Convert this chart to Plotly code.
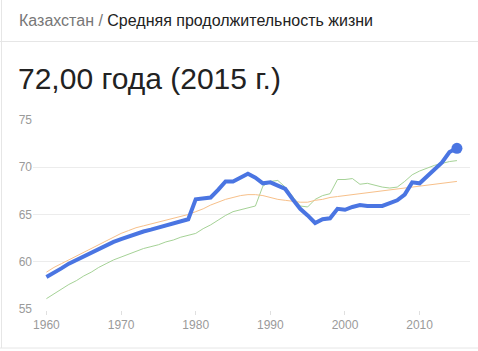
import plotly.graph_objects as go

years = list(range(1960, 2016))

kazakhstan = [58.4, 58.8, 59.3, 59.8, 60.2, 60.6, 61.0, 61.4, 61.8, 62.1,
              62.4, 62.7, 63.0, 63.2, 63.4, 63.6, 63.8, 64.0, 64.2, 64.5,
              66.6, 66.7, 66.8, 67.6, 68.5, 68.5, 68.9, 69.3, 68.9, 68.3,
              68.4, 68.1, 67.7, 66.6, 65.6, 64.9, 64.1, 64.5, 64.6, 65.6,
              65.5, 65.8, 66.0, 65.9, 65.9, 65.9, 66.2, 66.5, 67.1, 68.4,
              68.3, 69.0, 69.7, 70.5, 71.6, 72.0]

orange_series = [58.9, 59.4, 59.8, 60.2, 60.6, 61.0, 61.4, 61.8, 62.2, 62.6,
                 63.0, 63.3, 63.6, 63.8, 64.0, 64.2, 64.4, 64.6, 64.8, 65.0,
                 65.3, 65.6, 66.0, 66.3, 66.6, 66.8, 67.0, 67.1, 67.1, 67.0,
                 66.8, 66.6, 66.5, 66.4, 66.3, 66.3, 66.5, 66.6, 66.8, 66.9,
                 67.0, 67.1, 67.2, 67.3, 67.4, 67.5, 67.6, 67.7, 67.8, 67.9,
                 68.0, 68.1, 68.2, 68.3, 68.4, 68.5]

green_series = [56.1, 56.6, 57.1, 57.6, 58.0, 58.5, 58.9, 59.4, 59.8, 60.2,
                60.5, 60.8, 61.1, 61.4, 61.6, 61.8, 62.1, 62.3, 62.6, 62.8,
                63.0, 63.5, 63.9, 64.4, 64.9, 65.3, 65.5, 65.7, 65.9, 68.0,
                68.5, 68.6, 67.9, 66.9, 65.9, 65.8, 66.6, 67.0, 67.2, 68.7,
                68.7, 68.8, 68.2, 68.3, 68.1, 67.9, 67.8, 67.9, 68.5, 69.2,
                69.6, 69.9, 70.2, 70.4, 70.6, 70.7]

x_ticks = [1960, 1970, 1980, 1990, 2000, 2010]
y_ticks = [55, 60, 65, 70, 75]

header_country = "Казахстан"
header_metric = "Средняя продолжительность жизни"
headline = "72,00 года (2015 г.)"

FONT = "Arial, Liberation Sans, sans-serif"

fig = go.Figure()
fig.add_trace(go.Scatter(x=years, y=green_series, mode="lines",
                         line=dict(color="#a5d296", width=1), hoverinfo="skip"))
fig.add_trace(go.Scatter(x=years, y=orange_series, mode="lines",
                         line=dict(color="#f7c08a", width=1), hoverinfo="skip"))
fig.add_trace(go.Scatter(x=years, y=kazakhstan, mode="lines",
                         line=dict(color="#4a75e2", width=4), hoverinfo="skip"))
fig.add_trace(go.Scatter(x=[years[-1]], y=[kazakhstan[-1]], mode="markers",
                         marker=dict(color="#4a75e2", size=11), hoverinfo="skip"))

L, R, T, B = 33, 8, 119, 41
W, H = 478, 351
pw = W - L - R
ph = H - T - B

def px(xp):
    return (xp - L) / pw

def py(yp):
    return (H - B - yp) / ph

fig.add_annotation(xref="paper", yref="paper", x=px(17), y=py(20),
                   xanchor="left", yanchor="middle", showarrow=False,
                   text=f"<span style='color:#777777'>{header_country} / </span>{header_metric}",
                   font=dict(family=FONT, size=16, color="#222222"))
fig.add_annotation(xref="paper", yref="paper", x=px(16), y=py(78),
                   xanchor="left", yanchor="middle", showarrow=False,
                   text=headline,
                   font=dict(family=FONT, size=30, color="#222222"))

fig.add_shape(type="line", xref="paper", yref="paper",
              x0=px(0), x1=px(W), y0=py(41.5), y1=py(41.5),
              line=dict(color="#e6e6e6", width=1))
fig.add_shape(type="line", xref="paper", yref="paper",
              x0=px(1.5), x1=px(1.5), y0=py(0), y1=py(348),
              line=dict(color="#e6e6e6", width=1))
fig.add_shape(type="line", xref="paper", yref="paper",
              x0=px(0), x1=px(W), y0=py(348), y1=py(348),
              line=dict(color="#e6e6e6", width=1))

fig.update_layout(
    width=W, height=H,
    margin=dict(l=L, r=R, t=T, b=B),
    paper_bgcolor="white", plot_bgcolor="white",
    showlegend=False,
    font=dict(family=FONT, color="#9a9a9a", size=12),
    xaxis=dict(range=[1958.2, 2016.75], tickvals=x_ticks, showgrid=False,
               zeroline=False, showline=False, ticks="outside", ticklen=4,
               tickcolor="#e0e0e0", tickfont=dict(size=12, color="#9a9a9a")),
    yaxis=dict(range=[54.9, 75.1], tickvals=y_ticks, showgrid=True,
               gridcolor="#ececec", gridwidth=1, zeroline=False, showline=False,
               ticks="", tickfont=dict(size=12, color="#9a9a9a")),
)

fig.write_html("out.html")
